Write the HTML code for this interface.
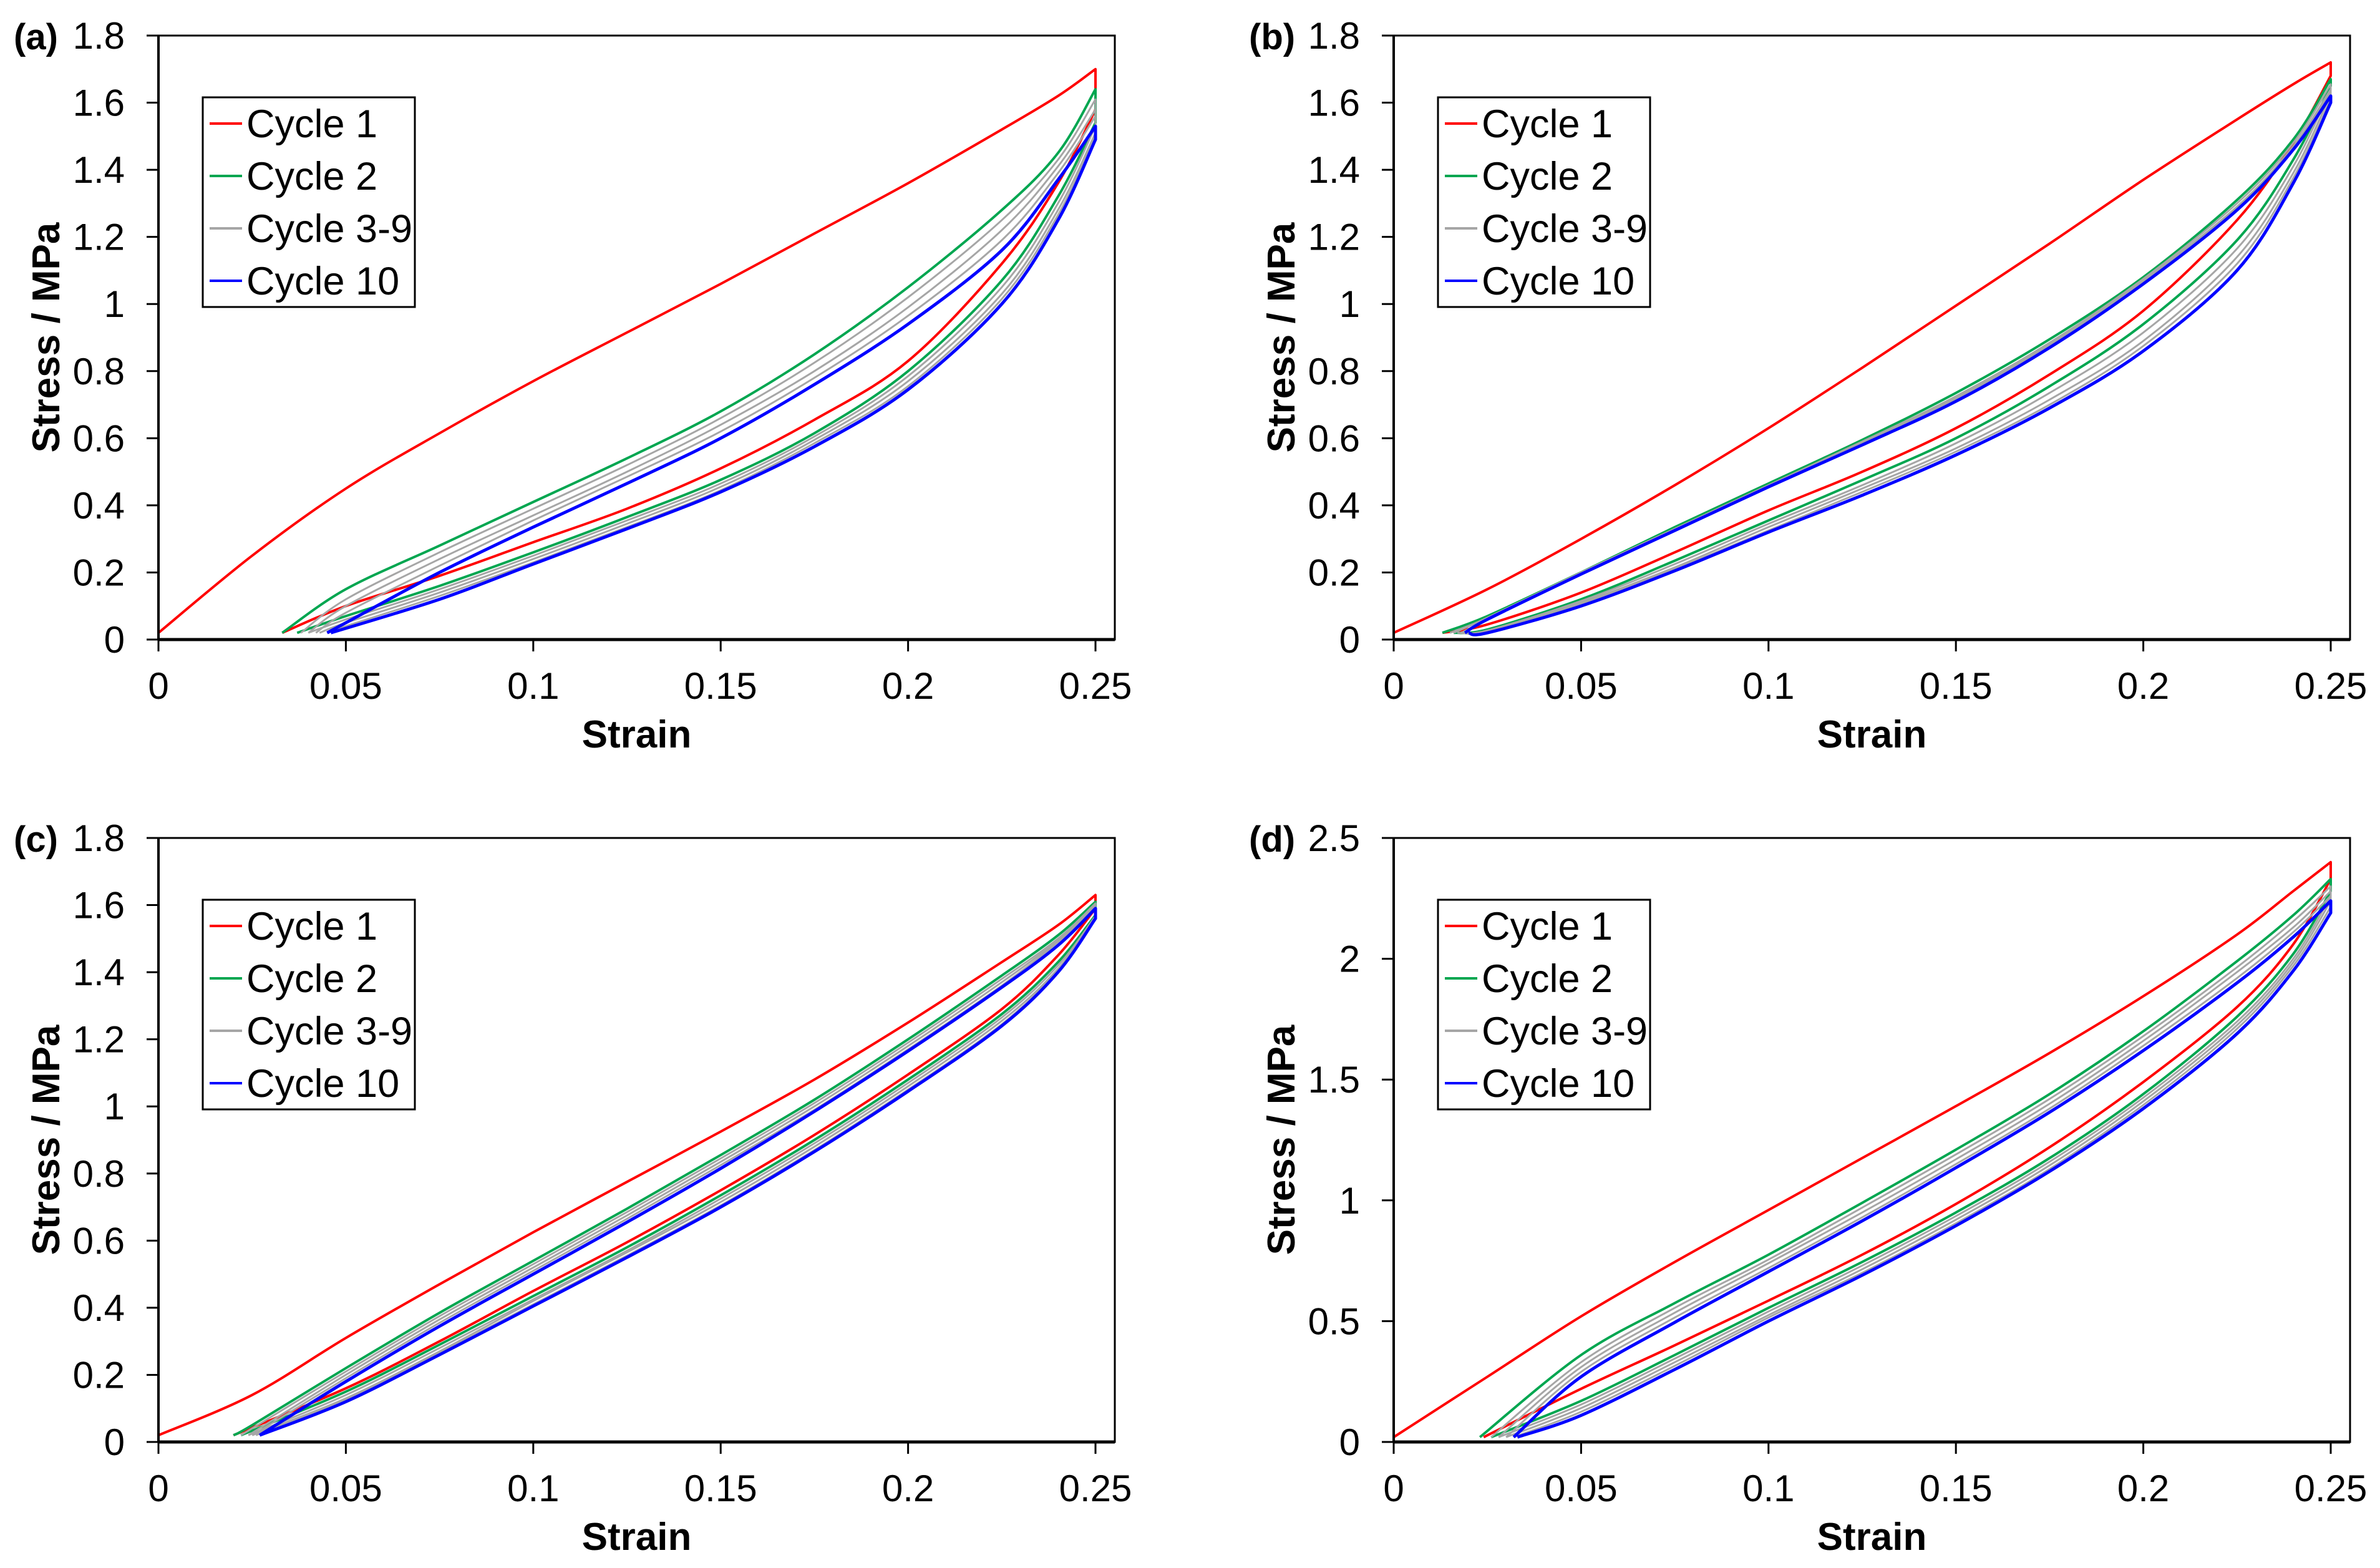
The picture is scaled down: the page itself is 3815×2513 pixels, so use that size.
<!DOCTYPE html>
<html><head><meta charset="utf-8"><style>
html,body{margin:0;padding:0;background:#fff;}
svg{display:block;font-family:"Liberation Sans",Arial,sans-serif;}
</style></head><body>
<svg id="fig" width="3815" height="2513" viewBox="0 0 3815 2513" xmlns="http://www.w3.org/2000/svg"></svg>
<script>
// shared strain grid
const strainGrid = [0.025,0.05,0.075,0.1,0.125,0.15,0.175,0.2,0.225,0.24,0.25];
const xTicks = [0,0.05,0.1,0.15,0.2,0.25];
const xTickLabels = ["0","0.05","0.1","0.15","0.2","0.25"];
const yTicksA = [0,0.2,0.4,0.6,0.8,1,1.2,1.4,1.6,1.8];
const yTickLabelsA = ["0","0.2","0.4","0.6","0.8","1","1.2","1.4","1.6","1.8"];
const yTicksD = [0,0.5,1,1.5,2,2.5];
const yTickLabelsD = ["0","0.5","1","1.5","2","2.5"];
const legendLabels = ["Cycle 1","Cycle 2","Cycle 3-9","Cycle 10"];

// Panel (a)
const a_c1 = {x0:0, load:[0.25,0.45,0.615,0.77,0.915,1.06,1.21,1.36,1.52,1.62,1.70], unload:[null,0.10,0.19,0.29,0.39,0.51,0.655,0.83,1.12,1.36,1.58], x1:0.033};
const a_c2 = {x0:0.033, load:[null,0.15,0.28,0.41,0.54,0.68,0.85,1.05,1.28,1.45,1.64], unload:[null,0.07,0.16,0.26,0.365,0.476,0.615,0.80,1.07,1.32,1.54], x1:0.037};
const a_g1 = {x0:0.038, load:[null,0.12,0.26,0.39,0.52,0.66,0.825,1.02,1.25,1.43,1.61], unload:[null,0.06,0.15,0.25,0.355,0.465,0.605,0.785,1.05,1.30,1.53], x1:0.040};
const a_g2 = {x0:0.040, load:[null,0.10,0.24,0.37,0.50,0.64,0.80,0.99,1.22,1.41,1.58], unload:[null,0.05,0.14,0.24,0.345,0.455,0.595,0.77,1.03,1.28,1.51], x1:0.043};
const a_g3 = {x0:0.042, load:[null,0.08,0.22,0.355,0.485,0.62,0.78,0.965,1.19,1.39,1.56], unload:[null,0.04,0.13,0.23,0.335,0.445,0.585,0.755,1.015,1.265,1.50], x1:0.045};
const a_c10 = {x0:0.045, load:[null,0.05,0.20,0.335,0.465,0.60,0.76,0.94,1.16,1.37,1.53], unload:[null,0.03,0.12,0.225,0.33,0.44,0.575,0.745,1.00,1.25,1.49], x1:0.046};

// Panel (b)
const b_c1 = {x0:0, load:[0.15,0.30,0.46,0.63,0.81,0.995,1.18,1.37,1.55,1.655,1.72], unload:[0.045,0.14,0.26,0.385,0.50,0.63,0.79,0.98,1.25,1.48,1.68], x1:0.013};
const b_c2 = {x0:0.013, load:[0.07,0.20,0.335,0.465,0.595,0.735,0.895,1.08,1.31,1.49,1.67], unload:[0.03,0.12,0.235,0.355,0.475,0.60,0.755,0.94,1.19,1.43,1.65], x1:0.016};
const b_g1 = {x0:0.015, load:[0.065,0.20,0.33,0.46,0.59,0.725,0.885,1.075,1.30,1.48,1.655], unload:[0.027,0.115,0.225,0.345,0.46,0.585,0.735,0.915,1.165,1.41,1.64], x1:0.017};
const b_g2 = {x0:0.016, load:[0.065,0.20,0.33,0.46,0.585,0.72,0.88,1.07,1.29,1.47,1.64], unload:[0.025,0.11,0.215,0.335,0.45,0.57,0.715,0.89,1.14,1.39,1.625], x1:0.018};
const b_g3 = {x0:0.018, load:[0.06,0.195,0.325,0.455,0.58,0.715,0.875,1.065,1.285,1.465,1.63], unload:[0.022,0.105,0.21,0.325,0.44,0.56,0.70,0.875,1.12,1.375,1.61], x1:0.019};
const b_c10 = {x0:0.019, load:[0.06,0.195,0.325,0.455,0.58,0.71,0.87,1.06,1.28,1.46,1.62], unload:[0.02,0.10,0.205,0.32,0.43,0.55,0.69,0.86,1.10,1.36,1.60], x1:0.020};

// Panel (c)
const c_c1 = {x0:0, load:[0.14,0.31,0.47,0.625,0.775,0.925,1.08,1.25,1.43,1.54,1.63], unload:[null,0.16,0.30,0.45,0.595,0.75,0.915,1.095,1.29,1.45,1.59], x1:0.020};
const c_c2 = {x0:0.020, load:[0.05,0.22,0.385,0.54,0.695,0.855,1.02,1.20,1.39,1.51,1.61], unload:[0.02,0.15,0.29,0.435,0.58,0.735,0.90,1.08,1.275,1.43,1.57], x1:0.022};
const c_g1 = {x0:0.022, load:[0.03,0.21,0.375,0.53,0.685,0.845,1.01,1.19,1.38,1.50,1.605], unload:[null,0.14,0.28,0.425,0.57,0.725,0.89,1.07,1.265,1.42,1.567], x1:0.024};
const c_g2 = {x0:0.024, load:[null,0.20,0.365,0.52,0.675,0.835,1.00,1.18,1.37,1.495,1.60], unload:[null,0.13,0.27,0.42,0.565,0.715,0.88,1.06,1.255,1.41,1.565], x1:0.025};
const c_g3 = {x0:0.025, load:[null,0.19,0.355,0.51,0.665,0.825,0.99,1.17,1.36,1.49,1.595], unload:[null,0.125,0.265,0.41,0.555,0.705,0.87,1.05,1.245,1.405,1.562], x1:0.026};
const c_c10 = {x0:0.027, load:[null,0.18,0.345,0.50,0.655,0.815,0.985,1.165,1.355,1.48,1.59], unload:[null,0.12,0.26,0.405,0.55,0.70,0.865,1.045,1.24,1.40,1.56], x1:0.027};

// Panel (d)
const d_c1 = {x0:0, load:[0.27,0.52,0.745,0.96,1.175,1.39,1.61,1.845,2.10,2.28,2.40], unload:[null,0.22,0.40,0.585,0.775,0.985,1.22,1.49,1.80,2.06,2.33], x1:0.024};
const d_c2 = {x0:0.023, load:[0.05,0.36,0.575,0.775,0.99,1.21,1.44,1.70,1.99,2.18,2.33], unload:[0.03,0.17,0.36,0.555,0.745,0.95,1.175,1.44,1.76,2.02,2.28], x1:0.026};
const d_g1 = {x0:0.026, load:[null,0.33,0.555,0.755,0.97,1.19,1.42,1.68,1.965,2.155,2.30], unload:[null,0.155,0.345,0.54,0.73,0.935,1.16,1.425,1.74,2.00,2.26], x1:0.028};
const d_g2 = {x0:0.028, load:[null,0.31,0.535,0.74,0.95,1.17,1.40,1.66,1.945,2.13,2.28], unload:[null,0.14,0.33,0.525,0.715,0.92,1.145,1.41,1.725,1.985,2.24], x1:0.030};
const d_g3 = {x0:0.030, load:[null,0.29,0.515,0.72,0.93,1.15,1.38,1.64,1.92,2.11,2.26], unload:[null,0.125,0.315,0.515,0.70,0.905,1.13,1.395,1.71,1.97,2.215], x1:0.032};
const d_c10 = {x0:0.032, load:[null,0.27,0.495,0.705,0.915,1.135,1.365,1.62,1.90,2.09,2.24], unload:[null,0.11,0.30,0.50,0.69,0.895,1.12,1.38,1.69,1.95,2.19], x1:0.033};

const NS = "http://www.w3.org/2000/svg";
const svg = document.getElementById('fig');
function mk(tag, attrs, parent){
  const e = document.createElementNS(NS, tag);
  for (const k in attrs) e.setAttribute(k, attrs[k]);
  (parent||svg).appendChild(e);
  return e;
}
function spline(pts){
  let d = "";
  for (let i=0;i<pts.length-1;i++){
    const p0=pts[Math.max(0,i-1)], p1=pts[i], p2=pts[i+1], p3=pts[Math.min(pts.length-1,i+2)];
    const c1x=p1[0]+(p2[0]-p0[0])/6, c1y=p1[1]+(p2[1]-p0[1])/6;
    const c2x=p2[0]-(p3[0]-p1[0])/6, c2y=p2[1]-(p3[1]-p1[1])/6;
    d += ` C${c1x.toFixed(1)},${c1y.toFixed(1)} ${c2x.toFixed(1)},${c2y.toFixed(1)} ${p2[0].toFixed(1)},${p2[1].toFixed(1)}`;
  }
  return d;
}

const PW = 1533, PH = 968, X25 = 1502;
function panel(id, left, top, yMax, yTicks, yLabels, cycles, label){
  const g = mk('g', {});
  
  
  const xS = s => left + s / 0.25 * X25;
  const yS = v => top + PH - v / yMax * PH;

  const clip = mk('clipPath', {id:'clip'+id}, g);
  mk('rect', {x:left, y:top, width:PW, height:PH}, clip);
  const cg = mk('g', {'clip-path':'url(#clip'+id+')'}, g);
  const styles = [
    ['#ff0000',4,'cycle-1-curve'],['#00a650',4,'cycle-2-curve'],
    ['#a6a6a6',3,'cycle-3-9-curve'],['#a6a6a6',3,'cycle-3-9-curve'],['#a6a6a6',3,'cycle-3-9-curve'],
    ['#0000ff',5,'cycle-10-curve']
  ];
  cycles.forEach((c, ci) => {
    const lp = [[xS(c.x0), yS(0.02)]];
    strainGrid.forEach((s,i) => { if (c.load[i] !== null && s > c.x0 + 0.004) lp.push([xS(s), yS(c.load[i])]); });
    const up = [];
    for (let i = strainGrid.length - 1; i >= 0; i--) {
      if (c.unload[i] !== null && strainGrid[i] > c.x1 + 0.004) up.push([xS(strainGrid[i]), yS(c.unload[i])]);
    }
    up.push([xS(c.x1), yS(0.02)]);
    let d = `M${lp[0][0].toFixed(1)},${lp[0][1].toFixed(1)}` + spline(lp) +
            ` L${up[0][0].toFixed(1)},${up[0][1].toFixed(1)}` + spline(up);
    const p = mk('path', {d:d, fill:'none', stroke:styles[ci][0], 'stroke-width':styles[ci][1], 'stroke-linejoin':'round'}, cg);
    
    
  });

  const fr = mk('rect', {x:left, y:top, width:PW, height:PH, fill:'none', stroke:'#000', 'stroke-width':3}, g);
  
  
  mk('line', {x1:left, y1:top+PH, x2:left+PW, y2:top+PH, stroke:'#000', 'stroke-width':5}, g);
  mk('line', {x1:left, y1:top, x2:left, y2:top+PH, stroke:'#000', 'stroke-width':4}, g);

  xTicks.forEach((t,i) => {
    mk('line', {x1:xS(t), y1:top+PH, x2:xS(t), y2:top+PH+19, stroke:'#000', 'stroke-width':3}, g);
    const tx = mk('text', {x:xS(t), y:top+PH+95, 'font-size':60, 'text-anchor':'middle'}, g);
    tx.textContent = xTickLabels[i];
    
    
  });
  yTicks.forEach((t,i) => {
    mk('line', {x1:left-19, y1:yS(t), x2:left, y2:yS(t), stroke:'#000', 'stroke-width':3}, g);
    const ty = mk('text', {x:left-54, y:yS(t)+21, 'font-size':60, 'text-anchor':'end'}, g);
    ty.textContent = yLabels[i];
    
    
  });
  const xt = mk('text', {x:left+PW/2, y:top+PH+173, 'font-size':62, 'font-weight':'bold', 'text-anchor':'middle'}, g);
  xt.textContent = 'Strain';
  
  
  const yt = mk('text', {x:0, y:0, 'font-size':62, 'font-weight':'bold', 'text-anchor':'middle', transform:`translate(${left-159},${top+PH/2}) rotate(-90)`}, g);
  yt.textContent = 'Stress / MPa';
  
  
  const pl = mk('text', {x:left-232, y:top+22, 'font-size':58, 'font-weight':'bold'}, g);
  pl.textContent = label;
  
  

  const lx = left + 71, ly = top + 99;
  const lg = mk('g', {}, g);
  
  
  mk('rect', {x:lx, y:ly, width:340, height:336, fill:'#fff', stroke:'#000', 'stroke-width':3}, lg);
  const lc = ['#ff0000','#00a650','#a6a6a6','#0000ff'];
  legendLabels.forEach((lab,i) => {
    const e = mk('g', {}, lg);
    
    
    const cy = ly + 42 + i*84;
    mk('line', {x1:lx+11, y1:cy, x2:lx+63, y2:cy, stroke:lc[i], 'stroke-width':4}, e);
    const t = mk('text', {x:lx+70, y:cy+22, 'font-size':63}, e);
    t.textContent = lab;
  });
}

panel('a', 254, 57, 1.8, yTicksA, yTickLabelsA, [a_c1,a_c2,a_g1,a_g2,a_g3,a_c10], '(a)');
panel('b', 2234, 57, 1.8, yTicksA, yTickLabelsA, [b_c1,b_c2,b_g1,b_g2,b_g3,b_c10], '(b)');
panel('c', 254, 1343, 1.8, yTicksA, yTickLabelsA, [c_c1,c_c2,c_g1,c_g2,c_g3,c_c10], '(c)');
panel('d', 2234, 1343, 2.5, yTicksD, yTickLabelsD, [d_c1,d_c2,d_g1,d_g2,d_g3,d_c10], '(d)');
</script>
</body></html>
